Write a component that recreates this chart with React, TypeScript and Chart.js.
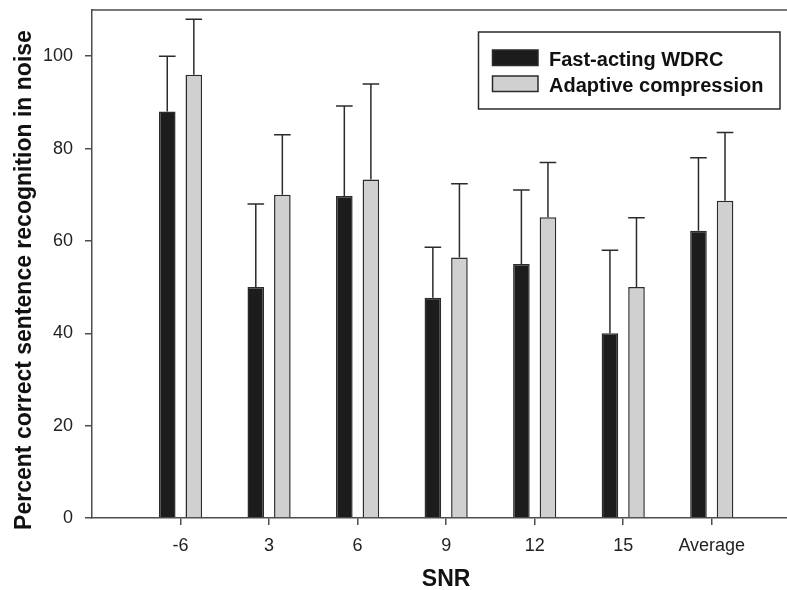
import React, { useEffect, useRef } from "react";
import { Chart, registerables } from "chart.js";

Chart.register(...registerables);

const categories = ["-6", "3", "6", "9", "12", "15", "Average"];
const fastValues = [88, 50, 69.7, 47.7, 55, 40, 62.2];
const fastErrors = [12, 18, 19.5, 10.9, 16, 18, 15.8];
const adaptiveValues = [96, 70, 73.3, 56.4, 65.1, 50, 68.7];
const adaptiveErrors = [12, 13, 20.7, 16, 11.9, 15, 14.8];
const yTicks = [0, 20, 40, 60, 80, 100];
const seriesNames = ["Fast-acting WDRC", "Adaptive compression"];
const xTitle = "SNR";
const yTitle = "Percent correct sentence recognition in noise";

const FONT = "'Liberation Sans', Arial, Helvetica, sans-serif";
const AXIS = "#4d4d4d";
const INK = "#2b2b2b";

const extras = {
  id: "extras",
  afterDatasetsDraw(chart: any) {
    const ctx = chart.ctx;
    const y = chart.scales.y;
    const vals = [fastValues, adaptiveValues];
    const errs = [fastErrors, adaptiveErrors];
    ctx.save();
    ctx.strokeStyle = INK;
    ctx.lineWidth = 1.5;
    chart.data.datasets.forEach((_ds: any, di: number) => {
      const meta = chart.getDatasetMeta(di);
      meta.data.forEach((bar: any, i: number) => {
        const top = y.getPixelForValue(vals[di][i] + errs[di][i]);
        const half = bar.width / 2;
        ctx.beginPath();
        ctx.moveTo(bar.x, bar.y);
        ctx.lineTo(bar.x, top);
        ctx.moveTo(bar.x - half, top);
        ctx.lineTo(bar.x + half, top);
        ctx.stroke();
      });
    });
    ctx.restore();
  },
  afterDraw(chart: any) {
    const ctx = chart.ctx;
    const area = chart.chartArea;
    const x = chart.scales.x;
    ctx.save();
    // top frame line
    ctx.strokeStyle = AXIS;
    ctx.lineWidth = 1.5;
    ctx.beginPath();
    ctx.moveTo(area.left, area.top);
    ctx.lineTo(chart.width, area.top);
    ctx.stroke();

    // legend
    ctx.strokeStyle = INK;
    ctx.lineWidth = 1.5;
    ctx.strokeRect(478.5, 32, 301.5, 77);
    ctx.font = `bold 20px ${FONT}`;
    ctx.textAlign = "left";
    ctx.textBaseline = "alphabetic";
    chart.data.datasets.forEach((ds: any, di: number) => {
      const sy = 50 + di * 26;
      ctx.fillStyle = ds.backgroundColor;
      ctx.fillRect(492.5, sy, 45.5, 15.5);
      ctx.strokeStyle = INK;
      ctx.strokeRect(492.5, sy, 45.5, 15.5);
      ctx.fillStyle = "#111";
      ctx.fillText(ds.label, 549, sy + 15.5);
    });

    // axis titles
    ctx.fillStyle = "#111";
    ctx.font = `bold 23px ${FONT}`;
    ctx.textAlign = "center";
    ctx.textBaseline = "alphabetic";
    ctx.fillText(xTitle, x.getPixelForValue(4), 586);
    ctx.translate(31, 280);
    ctx.rotate(-Math.PI / 2);
    ctx.fillText(yTitle, 0, 0);
    ctx.restore();
  },
};

export default function App() {
  const ref = useRef<HTMLCanvasElement | null>(null);
  useEffect(() => {
    document.body.style.margin = "0";
    const canvas = ref.current;
    if (!canvas) return;
    const chart = new Chart(canvas, {
      type: "bar",
      data: {
        datasets: [
          {
            label: seriesNames[0],
            data: fastValues.map((v, i) => ({ x: i + 1, y: v })),
            backgroundColor: "#1c1c1c",
            borderColor: INK,
            borderWidth: 1.5,
          },
          {
            label: seriesNames[1],
            data: adaptiveValues.map((v, i) => ({ x: i + 1, y: v })),
            backgroundColor: "#d0d0d0",
            borderColor: INK,
            borderWidth: 1.5,
          },
        ],
      },
      options: {
        animation: false,
        responsive: true,
        maintainAspectRatio: false,
        categoryPercentage: 0.6,
        barPercentage: 0.625,
        layout: { padding: { top: 10, right: 0, left: 0, bottom: 0 } },
        plugins: {
          legend: { display: false },
          tooltip: { enabled: false },
        },
        scales: {
          x: {
            type: "linear",
            min: 0,
            max: 7.85,
            offset: false,
            afterBuildTicks: (s: any) => {
              s.ticks = categories.map((_c, i) => ({ value: i + 1 }));
            },
            afterFit: (s: any) => {
              s.height = 72;
              s.paddingLeft = 0;
              s.paddingRight = 0;
            },
            grid: {
              display: true,
              offset: false,
              drawOnChartArea: false,
              drawTicks: true,
              tickLength: 7,
              color: AXIS,
              lineWidth: 1.5,
            },
            border: { display: true, color: AXIS, width: 1.5 },
            ticks: {
              autoSkip: false,
              maxRotation: 0,
              padding: 10,
              color: "#222",
              font: { family: FONT, size: 18 },
              callback: (v: any) => categories[Math.round(Number(v)) - 1] ?? "",
            },
          },
          y: {
            min: 0,
            max: 110,
            afterBuildTicks: (s: any) => {
              s.ticks = yTicks.map((v) => ({ value: v }));
            },
            afterFit: (s: any) => {
              s.width = 92;
              s.paddingTop = 0;
              s.paddingBottom = 0;
            },
            grid: {
              display: true,
              drawOnChartArea: false,
              drawTicks: true,
              tickLength: 7,
              color: AXIS,
              lineWidth: 1.5,
            },
            border: { display: true, color: AXIS, width: 1.5 },
            ticks: {
              padding: 12,
              color: "#222",
              font: { family: FONT, size: 18 },
            },
          },
        },
      } as any,
      plugins: [extras],
    });
    return () => chart.destroy();
  }, []);
  return (
    <div style={{ position: "fixed", left: 0, top: 0, width: 787, height: 590 }}>
      <canvas ref={ref} />
    </div>
  );
}
